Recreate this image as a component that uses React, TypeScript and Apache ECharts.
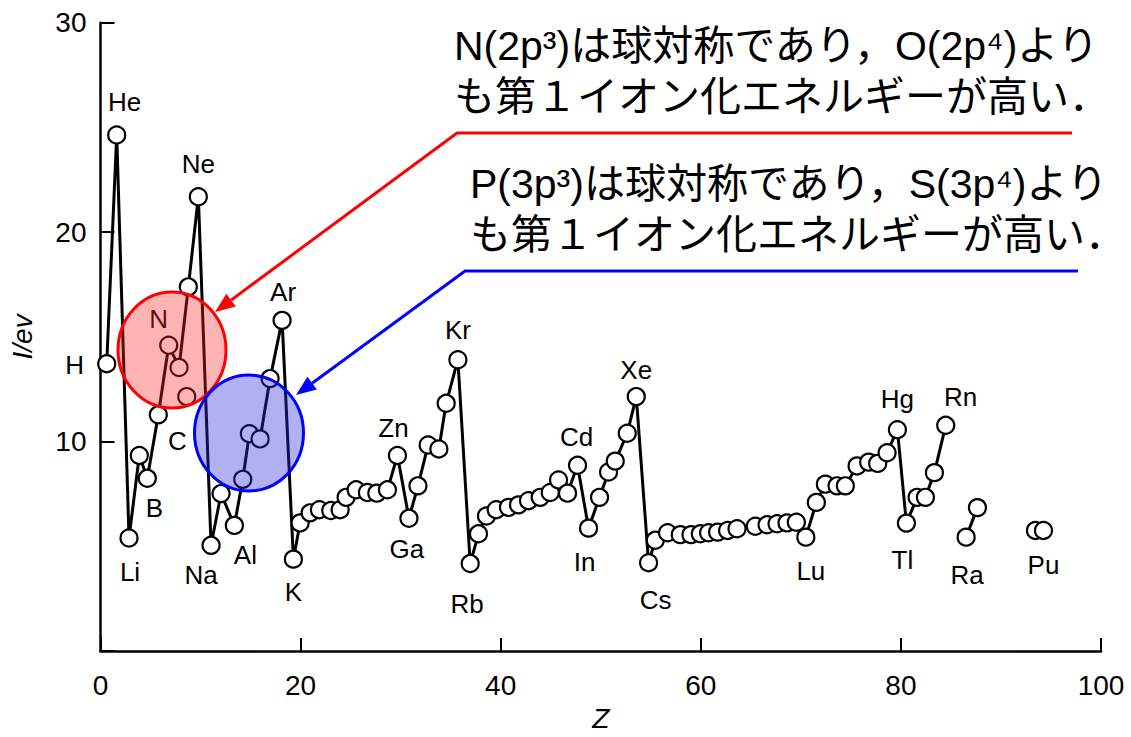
import React, { useEffect, useRef } from "react";
import * as echarts from "echarts";

// Main connected chain (Z position, first ionization energy in eV)
const chainNames = [
  "H", "He", "Li", "Be", "B", "C", "N", "O", "F", "Ne",
  "Na", "Mg", "Al", "Si", "P", "S", "Cl", "Ar", "K", "Ca",
  "Sc", "Ti", "V", "Cr", "Mn", "Fe", "Co", "Ni", "Cu", "Zn",
  "Ga", "Ge", "As", "Se", "Br", "Kr", "Rb", "Sr", "Y", "Zr",
  "Nb", "Mo", "Tc", "Ru", "Rh", "Pd", "Ag", "Cd", "In", "Sn",
  "Sb", "Te", "I", "Xe", "Cs", "Ba",
  "Ln1", "Ln2", "Ln3", "Ln4", "Ln5", "Ln6", "Ln7", "Ln8", "Ln9", "Ln10", "Ln11", "Ln12", "Ln13",
  "Lu", "Hf", "Ta", "W", "Re", "Os", "Ir", "Pt", "Au", "Hg",
  "Tl", "Pb", "Bi", "Po", "Rn",
];
const chainZ = [
  0.62, 1.62, 2.85, 3.88, 4.68, 5.78, 6.82, 7.85, 8.78, 9.78,
  11.05, 12.05, 13.38, 14.22, 14.88, 15.95, 16.95, 18.15, 19.28, 19.95,
  20.95, 21.88, 23.02, 23.95, 24.55, 25.55, 26.68, 27.62, 28.68, 29.68,
  30.83, 31.73, 32.75, 33.82, 34.55, 35.72, 36.95, 37.78, 38.58, 39.55,
  40.78, 41.78, 42.78, 43.95, 44.95, 45.78, 46.68, 47.68, 48.78, 49.88,
  50.78, 51.45, 52.65, 53.55, 54.78, 55.45,
  56.68, 57.95, 59.02, 59.95, 60.78, 61.68, 62.68, 63.62, 65.45, 66.62, 67.62, 68.62, 69.55,
  70.5, 71.55, 72.45, 73.62, 74.45, 75.62, 76.78, 77.68, 78.62, 79.65,
  80.55, 81.62, 82.45, 83.35, 84.48,
];
const chainI = [
  13.72, 24.64, 5.4, 9.34, 8.25, 11.28, 14.6, 13.54, 17.39, 21.69,
  5.05, 7.52, 6.0, 8.2, 10.38, 10.13, 13.01, 15.79, 4.39, 6.12,
  6.6, 6.75, 6.71, 6.75, 7.34, 7.7, 7.57, 7.54, 7.7, 9.34,
  6.34, 7.89, 9.84, 9.65, 11.83, 13.91, 4.18, 5.6, 6.45, 6.75,
  6.86, 6.98, 7.18, 7.34, 7.57, 8.17, 7.54, 8.87, 5.87, 7.34,
  8.55, 9.07, 10.4, 12.15, 4.22, 5.29,
  5.65, 5.56, 5.56, 5.6, 5.65, 5.68, 5.76, 5.84, 5.96, 6.03, 6.08, 6.12, 6.15,
  5.44, 7.1, 7.97, 7.89, 7.89, 8.84, 9.02, 8.96, 9.47, 10.57,
  6.11, 7.34, 7.34, 8.52, 10.78,
];
// Separate groups
const raNames = ["Ra", "Ra2"];
const raZ = [86.52, 87.65];
const raI = [5.44, 6.85];
const puNames = ["Pu", "Pu2"];
const puZ = [93.45, 94.25];
const puI = [5.76, 5.76];
const strayZ = [8.62];
const strayI = [12.15];

const xMin = 0, xMax = 100, xStep = 20;
const yMin = 0, yMax = 30, yStep = 10;

// label placement (pixel offsets from marker centre)
const labelOffsets: Record<string, [number, number]> = {
  He: [8, -33], Ne: [0, -33], Ar: [1, -28], Kr: [0, -30], Xe: [0, -27],
  Zn: [-4, -27], Cd: [-1, -28], Hg: [0, -31], Rn: [15, -28],
  H: [-32, 1], N: [-10, -26], C: [19, 26], B: [7, 30], Li: [1, 34],
  Na: [-10, 30], Al: [11, 30], K: [0, 33], Ga: [-2, 31], Rb: [-3, 40],
  In: [-4, 34], Cs: [7, 37], Lu: [5, 34], Tl: [-4, 37], Ra: [1, 38], Pu: [8, 35],
};

const noteN = ["N(2p³)は球対称であり，O(2p⁴)より", "も第１イオン化エネルギーが高い．"];
const noteP = ["P(3p³)は球対称であり，S(3p⁴)より", "も第１イオン化エネルギーが高い．"];

function arrowHead(from: number[], tip: number[], len: number, half: number) {
  const dx = tip[0] - from[0];
  const dy = tip[1] - from[1];
  const L = Math.hypot(dx, dy);
  const ux = dx / L, uy = dy / L;
  const bx = tip[0] - ux * len, by = tip[1] - uy * len;
  return {
    base: [bx, by],
    pts: [[tip[0], tip[1]], [bx - uy * half, by + ux * half], [bx + uy * half, by - ux * half]],
  };
}

function makeData(names: string[], zs: number[], is: number[]) {
  return zs.map((z, i) => {
    const name = names[i];
    const off = labelOffsets[name];
    const item: any = { value: [z, is[i]], name };
    if (off) {
      item.label = { show: true, formatter: name, position: "inside", offset: off };
    }
    return item;
  });
}

export default function App() {
  const ref = useRef<HTMLDivElement>(null);
  useEffect(() => {
    if (!ref.current) return;
    const chart = echarts.init(ref.current, undefined, { renderer: "svg" });
    const markerStyle = { color: "#fff", borderColor: "#000", borderWidth: 2.2, opacity: 1 };
    const labelStyle = {
      show: false,
      fontSize: 26,
      fontFamily: "Liberation Sans",
      color: "#000",
    };
    const lineSeries = (name: string, data: any[]) => ({
      type: "line",
      name,
      data,
      symbol: "circle",
      symbolSize: 17,
      showAllSymbol: true,
      itemStyle: markerStyle,
      lineStyle: { color: "#000", width: 3 },
      label: labelStyle,
      emphasis: { disabled: true },
      z: 3,
    });

    const redFrom = [457, 133];
    const redTip = [215, 312];
    const blueFrom = [465, 271];
    const blueTip = [296, 395];
    const redHead = arrowHead(redFrom, redTip, 20, 8);
    const blueHead = arrowHead(blueFrom, blueTip, 20, 8);
    const noteFont = '"Liberation Sans", "Noto Sans CJK JP", sans-serif';
    const noteStyle = {
      fontSize: 41,
      fontFamily: noteFont,
      fill: "#000",
      verticalAlign: "middle",
      align: "left",
    };
    const noteTexts = [
      { t: noteN[0], x: 454, y: 46 },
      { t: noteN[1], x: 454, y: 97 },
      { t: noteP[0], x: 470, y: 184 },
      { t: noteP[1], x: 470, y: 235 },
    ];

    chart.setOption({
      animation: false,
      backgroundColor: "#fff",
      grid: { left: 100.5, right: 30, top: 22.7, bottom: 80.3, containLabel: false },
      xAxis: {
        type: "value",
        min: xMin,
        max: xMax,
        interval: xStep,
        name: "Z",
        nameLocation: "middle",
        nameGap: 50,
        nameTextStyle: { fontSize: 28, fontStyle: "italic", fontFamily: "Liberation Sans", color: "#000" },
        axisLine: { show: true, lineStyle: { color: "#000", width: 2.5 } },
        axisTick: { show: true, inside: true, length: 13, lineStyle: { color: "#000", width: 2 } },
        axisLabel: { fontSize: 28, fontFamily: "Liberation Sans", color: "#000", margin: 20 },
        splitLine: { show: false },
      },
      yAxis: {
        type: "value",
        min: yMin,
        max: yMax,
        interval: yStep,
        name: "I/ev",
        nameLocation: "middle",
        nameGap: 64,
        nameRotate: 90,
        nameTextStyle: { fontSize: 28, fontStyle: "italic", fontFamily: "Liberation Sans", color: "#000" },
        axisLine: { show: true, lineStyle: { color: "#000", width: 2.5 } },
        axisTick: { show: true, inside: true, length: 14, lineStyle: { color: "#000", width: 2 } },
        axisLabel: {
          fontSize: 28,
          fontFamily: "Liberation Sans",
          color: "#000",
          margin: 14,
          formatter: (v: number) => (v === 0 ? "" : String(v)),
        },
        splitLine: { show: false },
      },
      series: [
        lineSeries("chain", makeData(chainNames, chainZ, chainI)),
        lineSeries("ra", makeData(raNames, raZ, raI)),
        lineSeries("pu", makeData(puNames, puZ, puI)),
        {
          type: "scatter",
          name: "stray",
          data: strayZ.map((z, i) => [z, strayI[i]]),
          symbol: "circle",
          symbolSize: 17,
          itemStyle: markerStyle,
          emphasis: { disabled: true },
          z: 3,
        },
      ],
      graphic: [
        {
          type: "ellipse",
          shape: { cx: 172, cy: 350, rx: 54, ry: 58 },
          style: { fill: "rgba(255,40,40,0.35)", stroke: "#ff0000", lineWidth: 3 },
          z: 100,
        },
        {
          type: "ellipse",
          shape: { cx: 249, cy: 433, rx: 54.5, ry: 58 },
          style: { fill: "rgba(40,40,220,0.37)", stroke: "#0000ff", lineWidth: 3 },
          z: 100,
        },
        {
          type: "polyline",
          shape: { points: [[1072, 133], redFrom, redHead.base] },
          style: { stroke: "#ff0000", lineWidth: 3, fill: "none" },
          z: 100,
        },
        { type: "polygon", shape: { points: redHead.pts }, style: { fill: "#ff0000" }, z: 100 },
        {
          type: "polyline",
          shape: { points: [[1078, 271], blueFrom, blueHead.base] },
          style: { stroke: "#0000ff", lineWidth: 3, fill: "none" },
          z: 100,
        },
        { type: "polygon", shape: { points: blueHead.pts }, style: { fill: "#0000ff" }, z: 100 },
        ...noteTexts.map((n) => ({
          type: "text",
          x: n.x,
          y: n.y,
          style: { ...noteStyle, text: n.t },
          z: 100,
        })),
      ],
    });
    return () => chart.dispose();
  }, []);
  return (
    <div
      ref={ref}
      style={{ position: "fixed", left: 0, top: 0, width: 1131, height: 737, background: "#fff" }}
    />
  );
}
